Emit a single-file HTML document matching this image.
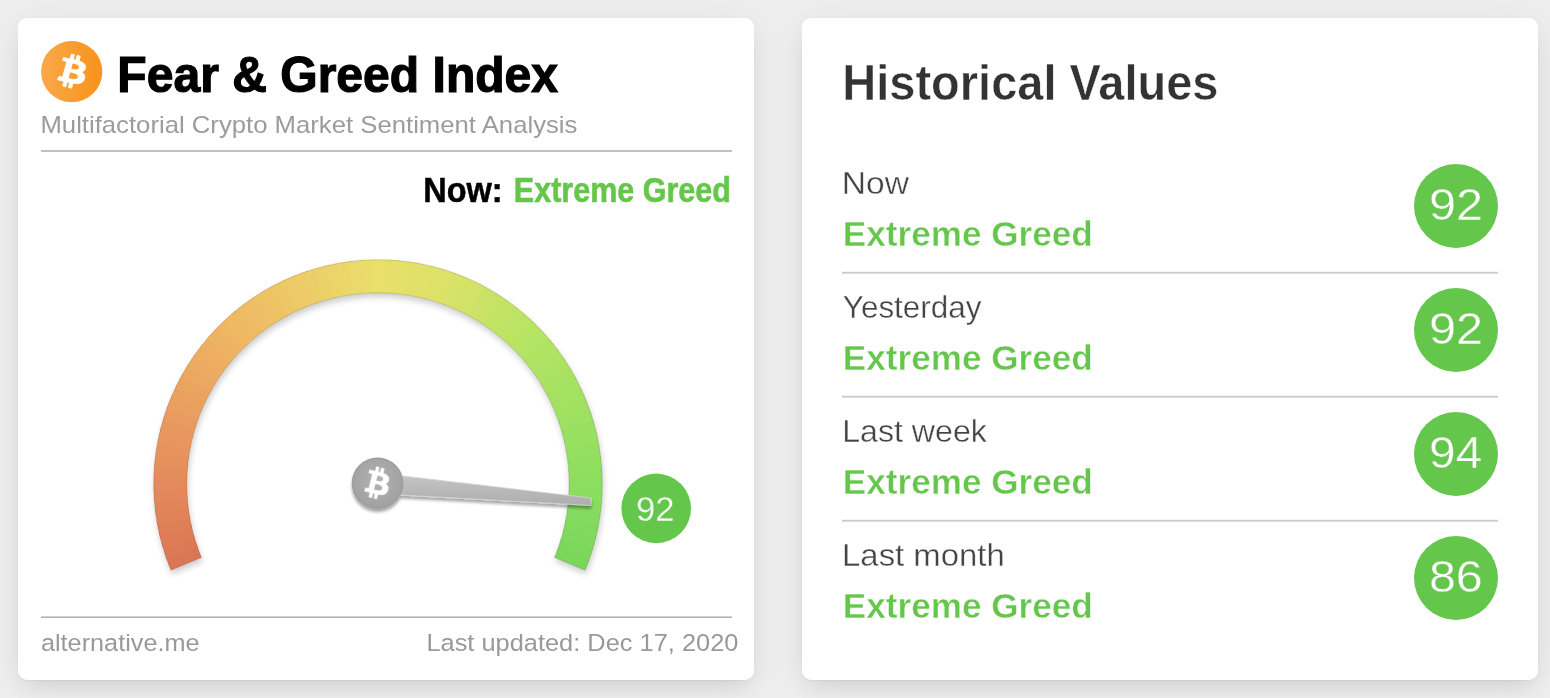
<!DOCTYPE html>
<html lang="en">
<head>
<meta charset="utf-8">
<title>Fear &amp; Greed Index</title>
<style>
html,body{margin:0;padding:0;}
body{width:1550px;height:698px;overflow:hidden;background:#eeeeee;font-family:"Liberation Sans",sans-serif;position:relative;}
.card{position:absolute;top:18px;width:736px;height:662px;background:#fff;border-radius:9px;box-shadow:0 10px 22px -6px rgba(0,0,0,.10),0 5px 40px rgba(0,0,0,.055),0 1px 1px rgba(0,0,0,.04);}
#c1{left:18px;}
#c2{left:802px;}
svg{position:absolute;left:0;top:0;}
text{font-family:"Liberation Sans",sans-serif;}
.thin-g{stroke:#65c64c;stroke-width:.4px;}
.thin-g2{stroke:#65c64c;stroke-width:.3px;}
.thin-w2{stroke:#fff;stroke-width:.4px;}
.thin-w3{stroke:#fff;stroke-width:.5px;}
.thin-w{stroke:#fff;stroke-width:.35px;}
</style>
</head>
<body>
<div class="card" id="c1"></div>
<div class="card" id="c2"></div>
<svg width="1550" height="698" viewBox="0 0 1550 698">
<defs>
<linearGradient id="og" x1="0" y1="0" x2="1" y2="0"><stop offset="0" stop-color="#faa84a"/><stop offset="1" stop-color="#f7931a"/></linearGradient>
<linearGradient id="ng" x1="0" y1="0" x2="0" y2="1"><stop offset="0" stop-color="#c4c4c4"/><stop offset="1" stop-color="#adadad"/></linearGradient>
<radialGradient id="hg" cx=".5" cy=".45" r=".55"><stop offset="0" stop-color="#b4b4b4"/><stop offset="1" stop-color="#a0a0a0"/></radialGradient>
<filter id="sh" x="-10%" y="-10%" width="120%" height="125%"><feGaussianBlur in="SourceAlpha" stdDeviation="3"/><feOffset dx="1" dy="4"/><feComponentTransfer><feFuncA type="linear" slope=".2"/></feComponentTransfer><feMerge><feMergeNode/><feMergeNode in="SourceGraphic"/></feMerge></filter>
<filter id="sh2" x="-20%" y="-40%" width="140%" height="200%"><feGaussianBlur in="SourceAlpha" stdDeviation="1.6"/><feOffset dx="0" dy="2.5"/><feComponentTransfer><feFuncA type="linear" slope=".35"/></feComponentTransfer><feMerge><feMergeNode/><feMergeNode in="SourceGraphic"/></feMerge></filter>
</defs>

<!-- left card: header -->
<g>
<circle cx="71.7" cy="71.7" r="30.6" fill="url(#og)"/>
<g transform="translate(71.8,71.6) scale(.92,.84) translate(-31.2,-32)"><path fill="#fff" stroke="#fff" stroke-width=".9" d="M46.103,27.444c0.637-4.258-2.605-6.547-7.038-8.074l1.438-5.768-3.511-0.875-1.400,5.616c-0.923-0.230-1.871-0.447-2.813-0.662l1.410-5.653-3.509-0.875-1.439,5.766c-0.764-0.174-1.514-0.346-2.242-0.527l0.004-0.018-4.842-1.209-0.934,3.750s2.605,0.597,2.550,0.634c1.422,0.355,1.679,1.296,1.636,2.042l-1.638,6.571c0.098,0.025,0.225,0.061,0.365,0.117-0.117-0.029-0.242-0.061-0.371-0.092l-2.296,9.205c-0.174,0.432-0.615,1.080-1.609,0.834,0.035,0.051-2.552-0.637-2.552-0.637l-1.743,4.019,4.569,1.139c0.850,0.213,1.683,0.436,2.503,0.646l-1.453,5.834,3.507,0.875,1.439-5.772c0.958,0.260,1.888,0.500,2.798,0.726l-1.434,5.745,3.511,0.875,1.453-5.823c5.987,1.133,10.489,0.676,12.384-4.739,1.527-4.360-0.076-6.875-3.226-8.515,2.294-0.529,4.022-2.038,4.483-5.155zM38.081,38.693c-1.085,4.360-8.426,2.003-10.806,1.412l1.928-7.729c2.380,0.594,10.012,1.770,8.878,6.317zm1.086-11.312c-0.990,3.966-7.100,1.951-9.082,1.457l1.748-7.010c1.982,0.494,8.365,1.416,7.334,5.553z"/></g>
<text id="t13" x="117.33" y="92.3" font-size="50.7" font-weight="700" fill="#000" textLength="440.75" lengthAdjust="spacingAndGlyphs" stroke="#000" stroke-width="1.2">Fear &amp; Greed Index</text>
<text id="t14" x="40.44" y="133.1" font-size="24" font-weight="400" fill="#9c9c9c" textLength="536.95" lengthAdjust="spacingAndGlyphs">Multifactorial Crypto Market Sentiment Analysis</text>
<rect x="41" y="150" width="691" height="2" fill="#c0c0c0"/>
<text id="t15" x="423.25" y="202.4" font-size="34.5" font-weight="700" fill="#000" textLength="79.37" lengthAdjust="spacingAndGlyphs" stroke="#000" stroke-width=".5">Now:</text>
<text id="t16" x="513.8" y="202.4" font-size="34.5" font-weight="700" fill="#65c64c" textLength="217.18" lengthAdjust="spacingAndGlyphs" stroke="#65c64c" stroke-width=".6">Extreme Greed</text>
</g>

<!-- gauge -->
<g filter="url(#sh)">
<path d="M170.92 570.20A224.3 224.3 0 0 1 165.16 554.79L196.57 544.34A191.2 191.2 0 0 0 201.48 557.48Z" fill="#db7655"/>
<path d="M166.69 559.23A224.3 224.3 0 0 1 161.75 543.54L193.66 534.75A191.2 191.2 0 0 0 197.88 548.13Z" fill="#dc7956"/>
<path d="M163.04 548.06A224.3 224.3 0 0 1 158.92 532.13L191.25 525.03A191.2 191.2 0 0 0 194.76 538.61Z" fill="#de7c57"/>
<path d="M159.98 536.71A224.3 224.3 0 0 1 156.70 520.59L189.36 515.19A191.2 191.2 0 0 0 192.15 528.93Z" fill="#df7f58"/>
<path d="M157.52 525.22A224.3 224.3 0 0 1 155.09 508.95L187.99 505.27A191.2 191.2 0 0 0 190.06 519.14Z" fill="#e18259"/>
<path d="M155.66 513.61A224.3 224.3 0 0 1 154.09 497.24L187.13 495.28A191.2 191.2 0 0 0 188.47 509.24Z" fill="#e2845a"/>
<path d="M154.42 501.93A224.3 224.3 0 0 1 153.70 485.49L186.80 485.27A191.2 191.2 0 0 0 187.41 499.28Z" fill="#e4875b"/>
<path d="M153.79 490.19A224.3 224.3 0 0 1 153.93 473.74L187.00 475.25A191.2 191.2 0 0 0 186.87 489.28Z" fill="#e58a5c"/>
<path d="M153.77 478.44A224.3 224.3 0 0 1 154.78 462.01L187.72 465.26A191.2 191.2 0 0 0 186.86 479.26Z" fill="#e68d5d"/>
<path d="M154.37 466.70A224.3 224.3 0 0 1 156.24 450.35L188.96 455.32A191.2 191.2 0 0 0 187.37 469.25Z" fill="#e6905d"/>
<path d="M155.58 455.01A224.3 224.3 0 0 1 158.31 438.78L190.73 445.45A191.2 191.2 0 0 0 188.40 459.29Z" fill="#e7935e"/>
<path d="M157.41 443.40A224.3 224.3 0 0 1 160.98 427.34L193.00 435.70A191.2 191.2 0 0 0 189.96 449.39Z" fill="#e8955e"/>
<path d="M159.84 431.90A224.3 224.3 0 0 1 164.24 416.05L195.79 426.07A191.2 191.2 0 0 0 192.03 439.59Z" fill="#e8985f"/>
<path d="M162.86 420.54A224.3 224.3 0 0 1 168.09 404.94L199.07 416.61A191.2 191.2 0 0 0 194.61 429.91Z" fill="#e99b5f"/>
<path d="M166.48 409.36A224.3 224.3 0 0 1 172.52 394.05L202.85 407.33A191.2 191.2 0 0 0 197.70 420.37Z" fill="#ea9e60"/>
<path d="M170.68 398.38A224.3 224.3 0 0 1 177.52 383.41L207.10 398.26A191.2 191.2 0 0 0 201.28 411.02Z" fill="#eaa160"/>
<path d="M175.45 387.64A224.3 224.3 0 0 1 183.06 373.05L211.83 389.42A191.2 191.2 0 0 0 205.34 401.86Z" fill="#eba461"/>
<path d="M180.78 377.16A224.3 224.3 0 0 1 189.14 362.99L217.01 380.85A191.2 191.2 0 0 0 209.88 392.93Z" fill="#eca761"/>
<path d="M186.65 366.98A224.3 224.3 0 0 1 195.74 353.27L222.64 372.56A191.2 191.2 0 0 0 214.88 384.25Z" fill="#ecaa62"/>
<path d="M193.04 357.11A224.3 224.3 0 0 1 202.84 343.90L228.69 364.57A191.2 191.2 0 0 0 220.33 375.84Z" fill="#edac62"/>
<path d="M199.94 347.60A224.3 224.3 0 0 1 210.42 334.91L235.15 356.91A191.2 191.2 0 0 0 226.22 367.73Z" fill="#eeaf63"/>
<path d="M207.33 338.46A224.3 224.3 0 0 1 218.46 326.34L242.00 349.61A191.2 191.2 0 0 0 232.52 359.94Z" fill="#eeb263"/>
<path d="M215.19 329.72A224.3 224.3 0 0 1 226.93 318.20L249.23 342.67A191.2 191.2 0 0 0 239.21 352.49Z" fill="#efb564"/>
<path d="M223.49 321.40A224.3 224.3 0 0 1 235.83 310.51L256.81 336.12A191.2 191.2 0 0 0 246.29 345.40Z" fill="#efb864"/>
<path d="M232.22 313.53A224.3 224.3 0 0 1 245.11 303.31L264.72 329.97A191.2 191.2 0 0 0 253.73 338.69Z" fill="#eebb65"/>
<path d="M241.35 306.13A224.3 224.3 0 0 1 254.76 296.59L272.94 324.25A191.2 191.2 0 0 0 261.52 332.38Z" fill="#eebd65"/>
<path d="M250.86 299.22A224.3 224.3 0 0 1 264.74 290.39L281.46 318.96A191.2 191.2 0 0 0 269.62 326.49Z" fill="#eec066"/>
<path d="M260.71 292.81A224.3 224.3 0 0 1 275.04 284.73L290.23 314.13A191.2 191.2 0 0 0 278.02 321.02Z" fill="#edc366"/>
<path d="M270.89 286.93A224.3 224.3 0 0 1 285.62 279.61L299.25 309.77A191.2 191.2 0 0 0 286.69 316.01Z" fill="#edc666"/>
<path d="M281.36 281.59A224.3 224.3 0 0 1 296.45 275.05L308.49 305.88A191.2 191.2 0 0 0 295.62 311.46Z" fill="#edc967"/>
<path d="M292.09 276.80A224.3 224.3 0 0 1 307.51 271.06L317.91 302.49A191.2 191.2 0 0 0 304.77 307.38Z" fill="#eccb67"/>
<path d="M303.06 272.59A224.3 224.3 0 0 1 318.76 267.66L327.50 299.59A191.2 191.2 0 0 0 314.12 303.79Z" fill="#ecce68"/>
<path d="M314.24 268.95A224.3 224.3 0 0 1 330.18 264.86L337.23 297.20A191.2 191.2 0 0 0 323.65 300.69Z" fill="#ecd168"/>
<path d="M325.59 265.91A224.3 224.3 0 0 1 341.72 262.65L347.07 295.32A191.2 191.2 0 0 0 333.33 298.09Z" fill="#ebd468"/>
<path d="M337.09 263.46A224.3 224.3 0 0 1 353.36 261.06L357.00 293.96A191.2 191.2 0 0 0 343.13 296.01Z" fill="#ebd769"/>
<path d="M348.70 261.62A224.3 224.3 0 0 1 365.08 260.07L366.98 293.12A191.2 191.2 0 0 0 353.02 294.44Z" fill="#ebd969"/>
<path d="M360.39 260.39A224.3 224.3 0 0 1 376.82 259.70L377.00 292.80A191.2 191.2 0 0 0 362.99 293.39Z" fill="#eadc6a"/>
<path d="M372.12 259.78A224.3 224.3 0 0 1 388.58 259.95L387.01 293.01A191.2 191.2 0 0 0 372.99 292.87Z" fill="#eadf6a"/>
<path d="M383.88 259.78A224.3 224.3 0 0 1 400.30 260.81L397.01 293.75A191.2 191.2 0 0 0 383.01 292.87Z" fill="#e8df6a"/>
<path d="M395.61 260.39A224.3 224.3 0 0 1 411.96 262.29L406.95 295.00A191.2 191.2 0 0 0 393.01 293.39Z" fill="#e5e069"/>
<path d="M407.30 261.62A224.3 224.3 0 0 1 423.53 264.37L416.81 296.78A191.2 191.2 0 0 0 402.98 294.44Z" fill="#e3e069"/>
<path d="M418.91 263.46A224.3 224.3 0 0 1 434.97 267.05L426.56 299.07A191.2 191.2 0 0 0 412.87 296.01Z" fill="#e1e069"/>
<path d="M430.41 265.91A224.3 224.3 0 0 1 446.25 270.34L436.18 301.87A191.2 191.2 0 0 0 422.67 298.09Z" fill="#dee168"/>
<path d="M441.76 268.95A224.3 224.3 0 0 1 457.35 274.21L445.64 305.16A191.2 191.2 0 0 0 432.35 300.69Z" fill="#dce168"/>
<path d="M452.94 272.59A224.3 224.3 0 0 1 468.23 278.65L454.92 308.95A191.2 191.2 0 0 0 441.88 303.79Z" fill="#d8e168"/>
<path d="M463.91 276.80A224.3 224.3 0 0 1 478.87 283.66L463.98 313.22A191.2 191.2 0 0 0 451.23 307.38Z" fill="#d4e267"/>
<path d="M474.64 281.59A224.3 224.3 0 0 1 489.22 289.22L472.81 317.96A191.2 191.2 0 0 0 460.38 311.46Z" fill="#d0e267"/>
<path d="M485.11 286.93A224.3 224.3 0 0 1 499.27 295.31L481.38 323.16A191.2 191.2 0 0 0 469.31 316.01Z" fill="#cce266"/>
<path d="M495.29 292.81A224.3 224.3 0 0 1 508.99 301.92L489.66 328.79A191.2 191.2 0 0 0 477.98 321.02Z" fill="#c7e366"/>
<path d="M505.14 299.22A224.3 224.3 0 0 1 518.35 309.03L497.64 334.85A191.2 191.2 0 0 0 486.38 326.49Z" fill="#c3e365"/>
<path d="M514.65 306.13A224.3 224.3 0 0 1 527.32 316.63L505.28 341.33A191.2 191.2 0 0 0 494.48 332.38Z" fill="#bfe365"/>
<path d="M523.78 313.53A224.3 224.3 0 0 1 535.88 324.68L512.58 348.19A191.2 191.2 0 0 0 502.27 338.69Z" fill="#bbe464"/>
<path d="M532.51 321.40A224.3 224.3 0 0 1 544.01 333.17L519.51 355.42A191.2 191.2 0 0 0 509.71 345.40Z" fill="#b7e464"/>
<path d="M540.81 329.72A224.3 224.3 0 0 1 551.68 342.07L526.05 363.01A191.2 191.2 0 0 0 516.79 352.49Z" fill="#b4e464"/>
<path d="M548.67 338.46A224.3 224.3 0 0 1 558.88 351.36L532.19 370.94A191.2 191.2 0 0 0 523.48 359.94Z" fill="#b1e363"/>
<path d="M556.06 347.60A224.3 224.3 0 0 1 565.58 361.02L537.90 379.17A191.2 191.2 0 0 0 529.78 367.73Z" fill="#aee363"/>
<path d="M562.96 357.11A224.3 224.3 0 0 1 571.76 371.01L543.17 387.69A191.2 191.2 0 0 0 535.67 375.84Z" fill="#ace263"/>
<path d="M569.35 366.98A224.3 224.3 0 0 1 577.42 381.32L547.99 396.47A191.2 191.2 0 0 0 541.12 384.25Z" fill="#a9e263"/>
<path d="M575.22 377.16A224.3 224.3 0 0 1 582.52 391.91L552.34 405.50A191.2 191.2 0 0 0 546.12 392.93Z" fill="#a6e262"/>
<path d="M580.55 387.64A224.3 224.3 0 0 1 587.07 402.75L556.21 414.74A191.2 191.2 0 0 0 550.66 401.86Z" fill="#a3e162"/>
<path d="M585.32 398.38A224.3 224.3 0 0 1 591.03 413.81L559.60 424.17A191.2 191.2 0 0 0 554.72 411.02Z" fill="#a0e162"/>
<path d="M589.52 409.36A224.3 224.3 0 0 1 594.42 425.06L562.48 433.76A191.2 191.2 0 0 0 558.30 420.37Z" fill="#9de062"/>
<path d="M593.14 420.54A224.3 224.3 0 0 1 597.21 436.48L564.86 443.49A191.2 191.2 0 0 0 561.39 429.91Z" fill="#9ae061"/>
<path d="M596.16 431.90A224.3 224.3 0 0 1 599.40 448.03L566.73 453.34A191.2 191.2 0 0 0 563.97 439.59Z" fill="#97e061"/>
<path d="M598.59 443.40A224.3 224.3 0 0 1 600.98 459.68L568.07 463.27A191.2 191.2 0 0 0 566.04 449.39Z" fill="#95df61"/>
<path d="M600.42 455.01A224.3 224.3 0 0 1 601.95 471.39L568.90 473.25A191.2 191.2 0 0 0 567.60 459.29Z" fill="#92df61"/>
<path d="M601.63 466.70A224.3 224.3 0 0 1 602.30 483.14L569.20 483.26A191.2 191.2 0 0 0 568.63 469.25Z" fill="#8fde60"/>
<path d="M602.23 478.44A224.3 224.3 0 0 1 602.04 494.89L568.97 493.28A191.2 191.2 0 0 0 569.14 479.26Z" fill="#8cde60"/>
<path d="M602.21 490.19A224.3 224.3 0 0 1 601.16 506.61L568.23 503.27A191.2 191.2 0 0 0 569.13 489.28Z" fill="#89dd5f"/>
<path d="M601.58 501.93A224.3 224.3 0 0 1 599.67 518.27L566.96 513.21A191.2 191.2 0 0 0 568.59 499.28Z" fill="#87dc5e"/>
<path d="M600.34 513.61A224.3 224.3 0 0 1 597.57 529.83L565.17 523.07A191.2 191.2 0 0 0 567.53 509.24Z" fill="#84db5e"/>
<path d="M598.48 525.22A224.3 224.3 0 0 1 594.87 541.27L562.86 532.82A191.2 191.2 0 0 0 565.94 519.14Z" fill="#81da5d"/>
<path d="M596.02 536.71A224.3 224.3 0 0 1 591.57 552.55L560.05 542.44A191.2 191.2 0 0 0 563.85 528.93Z" fill="#7fd95c"/>
<path d="M592.96 548.06A224.3 224.3 0 0 1 587.68 563.64L556.74 551.89A191.2 191.2 0 0 0 561.24 538.61Z" fill="#7cd85b"/>
<path d="M589.31 559.23A224.3 224.3 0 0 1 585.08 570.20L554.52 557.48A191.2 191.2 0 0 0 558.12 548.13Z" fill="#79d75a"/>
<path d="M170.92 570.20A224.3 224.3 0 1 1 585.08 570.20L554.52 557.48A191.2 191.2 0 1 0 201.48 557.48Z" fill="none" stroke="rgba(40,30,0,.16)" stroke-width="1"/>
</g>
<g filter="url(#sh2)">
<path d="M398.24 475.43L591.52 498.08L590.89 505.46L396.59 494.86Z" fill="url(#ng)" stroke="#d6d6d6" stroke-width=".8"/>
<circle cx="377.5" cy="483.3" r="25.2" fill="url(#hg)" stroke="#9c9c9c" stroke-width="1.2"/>
</g>
<g transform="translate(352.0,457.8) scale(.797)"><path fill="#fff" stroke="#fff" stroke-width=".7" d="M46.103,27.444c0.637-4.258-2.605-6.547-7.038-8.074l1.438-5.768-3.511-0.875-1.400,5.616c-0.923-0.230-1.871-0.447-2.813-0.662l1.410-5.653-3.509-0.875-1.439,5.766c-0.764-0.174-1.514-0.346-2.242-0.527l0.004-0.018-4.842-1.209-0.934,3.750s2.605,0.597,2.550,0.634c1.422,0.355,1.679,1.296,1.636,2.042l-1.638,6.571c0.098,0.025,0.225,0.061,0.365,0.117-0.117-0.029-0.242-0.061-0.371-0.092l-2.296,9.205c-0.174,0.432-0.615,1.080-1.609,0.834,0.035,0.051-2.552-0.637-2.552-0.637l-1.743,4.019,4.569,1.139c0.850,0.213,1.683,0.436,2.503,0.646l-1.453,5.834,3.507,0.875,1.439-5.772c0.958,0.260,1.888,0.500,2.798,0.726l-1.434,5.745,3.511,0.875,1.453-5.823c5.987,1.133,10.489,0.676,12.384-4.739,1.527-4.360-0.076-6.875-3.226-8.515,2.294-0.529,4.022-2.038,4.483-5.155zM38.081,38.693c-1.085,4.360-8.426,2.003-10.806,1.412l1.928-7.729c2.380,0.594,10.012,1.770,8.878,6.317zm1.086-11.312c-0.990,3.966-7.100,1.951-9.082,1.457l1.748-7.010c1.982,0.494,8.365,1.416,7.334,5.553z"/></g>
<circle cx="656.2" cy="508.4" r="34.8" fill="#65c64c"/>
<text id="t17" x="655.18" y="521.0" font-size="34.6" font-weight="400" fill="#fff" textLength="38.57" lengthAdjust="spacingAndGlyphs" text-anchor="middle" class="thin-g2">92</text>

<!-- footer -->
<rect x="41" y="616.5" width="691" height="1.4" fill="#a8a8a8"/>
<text id="t18" x="40.96" y="651.1" font-size="24.5" font-weight="400" fill="#999" textLength="158.56" lengthAdjust="spacingAndGlyphs">alternative.me</text>
<text id="t19" x="426.41" y="651.1" font-size="24.5" font-weight="400" fill="#999" textLength="312.01" lengthAdjust="spacingAndGlyphs">Last updated: Dec 17, 2020</text>

<!-- right card -->
<text id="t20" x="842.3" y="100.1" font-size="49.5" font-weight="700" fill="#333" textLength="376.21" lengthAdjust="spacingAndGlyphs" class="thin-w3">Historical Values</text>
<text id="t1" x="841.86" y="193.7" font-size="31.3" font-weight="400" fill="#444" textLength="67.15" lengthAdjust="spacingAndGlyphs" class="thin-w">Now</text>
<text id="t2" x="842.85" y="245.7" font-size="35.8" font-weight="700" fill="#65c64c" textLength="249.88" lengthAdjust="spacingAndGlyphs" class="thin-w2">Extreme Greed</text>
<circle cx="1456" cy="206.0" r="42" fill="#65c64c"/>
<text id="t3" x="1456.07" y="220.4" font-size="45.0" font-weight="400" fill="#fff" textLength="54.08" lengthAdjust="spacingAndGlyphs" text-anchor="middle" class="thin-g">92</text>
<rect x="842" y="271.8" width="656" height="1.8" fill="#c9c9c9"/>
<text id="t4" x="842.8" y="317.7" font-size="31.3" font-weight="400" fill="#444" textLength="138.75" lengthAdjust="spacingAndGlyphs" class="thin-w">Yesterday</text>
<text id="t5" x="842.85" y="369.7" font-size="35.8" font-weight="700" fill="#65c64c" textLength="249.88" lengthAdjust="spacingAndGlyphs" class="thin-w2">Extreme Greed</text>
<circle cx="1456" cy="330.0" r="42" fill="#65c64c"/>
<text id="t6" x="1456.07" y="344.4" font-size="45.0" font-weight="400" fill="#fff" textLength="54.08" lengthAdjust="spacingAndGlyphs" text-anchor="middle" class="thin-g">92</text>
<rect x="842" y="395.8" width="656" height="1.8" fill="#c9c9c9"/>
<text id="t7" x="842.26" y="441.7" font-size="31.3" font-weight="400" fill="#444" textLength="144.57" lengthAdjust="spacingAndGlyphs" class="thin-w">Last week</text>
<text id="t8" x="842.85" y="493.7" font-size="35.8" font-weight="700" fill="#65c64c" textLength="249.88" lengthAdjust="spacingAndGlyphs" class="thin-w2">Extreme Greed</text>
<circle cx="1456" cy="454.0" r="42" fill="#65c64c"/>
<text id="t9" x="1455.65" y="468.4" font-size="45.0" font-weight="400" fill="#fff" textLength="53.15" lengthAdjust="spacingAndGlyphs" text-anchor="middle" class="thin-g">94</text>
<rect x="842" y="519.8" width="656" height="1.8" fill="#c9c9c9"/>
<text id="t10" x="842.1" y="565.7" font-size="31.3" font-weight="400" fill="#444" textLength="162.63" lengthAdjust="spacingAndGlyphs" class="thin-w">Last month</text>
<text id="t11" x="842.85" y="617.7" font-size="35.8" font-weight="700" fill="#65c64c" textLength="249.88" lengthAdjust="spacingAndGlyphs" class="thin-w2">Extreme Greed</text>
<circle cx="1456" cy="578.0" r="42" fill="#65c64c"/>
<text id="t12" x="1455.85" y="592.4" font-size="45.0" font-weight="400" fill="#fff" textLength="53.87" lengthAdjust="spacingAndGlyphs" text-anchor="middle" class="thin-g">86</text>
</svg>
</body>
</html>
